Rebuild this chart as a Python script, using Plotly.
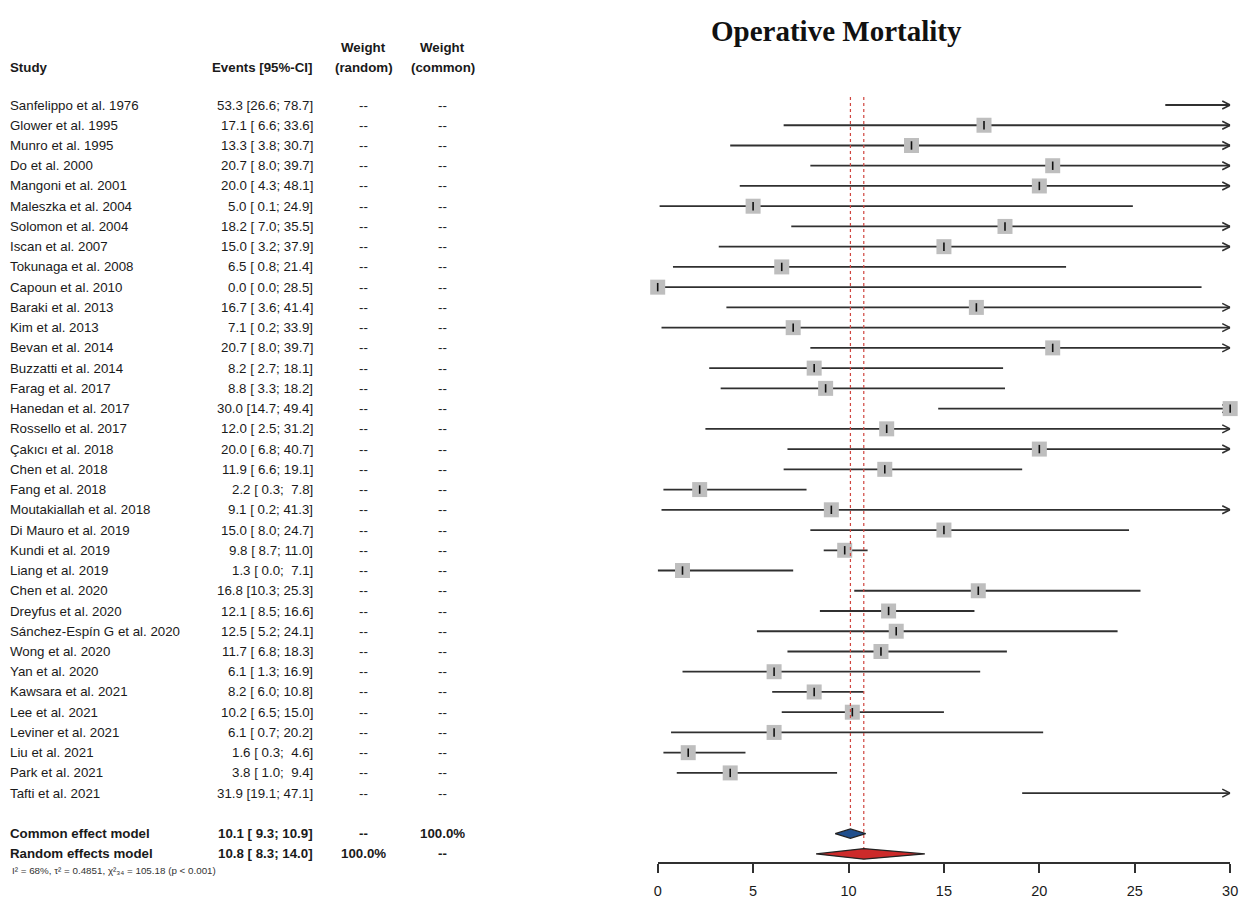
import plotly.graph_objects as go

# ---- study-level data ----
studies = [
    "Sanfelippo et al. 1976", "Glower et al. 1995", "Munro et al. 1995", "Do et al. 2000",
    "Mangoni et al. 2001", "Maleszka et al. 2004", "Solomon et al. 2004", "Iscan et al. 2007",
    "Tokunaga et al. 2008", "Capoun et al. 2010", "Baraki et al. 2013", "Kim et al. 2013",
    "Bevan et al. 2014", "Buzzatti et al. 2014", "Farag et al. 2017", "Hanedan et al. 2017",
    "Rossello et al. 2017", "Çakıcı et al. 2018", "Chen et al. 2018", "Fang et al. 2018",
    "Moutakiallah et al. 2018", "Di Mauro et al. 2019", "Kundi et al. 2019", "Liang et al. 2019",
    "Chen et al. 2020", "Dreyfus et al. 2020", "Sánchez-Espín G et al. 2020", "Wong et al. 2020",
    "Yan et al. 2020", "Kawsara et al. 2021", "Lee et al. 2021", "Leviner et al. 2021",
    "Liu et al. 2021", "Park et al. 2021", "Tafti et al. 2021",
]
events = [53.3, 17.1, 13.3, 20.7, 20.0, 5.0, 18.2, 15.0, 6.5, 0.0, 16.7, 7.1, 20.7, 8.2, 8.8,
          30.0, 12.0, 20.0, 11.9, 2.2, 9.1, 15.0, 9.8, 1.3, 16.8, 12.1, 12.5, 11.7, 6.1, 8.2,
          10.2, 6.1, 1.6, 3.8, 31.9]
ci_low = [26.6, 6.6, 3.8, 8.0, 4.3, 0.1, 7.0, 3.2, 0.8, 0.0, 3.6, 0.2, 8.0, 2.7, 3.3,
          14.7, 2.5, 6.8, 6.6, 0.3, 0.2, 8.0, 8.7, 0.0, 10.3, 8.5, 5.2, 6.8, 1.3, 6.0,
          6.5, 0.7, 0.3, 1.0, 19.1]
ci_high = [78.7, 33.6, 30.7, 39.7, 48.1, 24.9, 35.5, 37.9, 21.4, 28.5, 41.4, 33.9, 39.7, 18.1,
           18.2, 49.4, 31.2, 40.7, 19.1, 7.8, 41.3, 24.7, 11.0, 7.1, 25.3, 16.6, 24.1, 18.3,
           16.9, 10.8, 15.0, 20.2, 4.6, 9.4, 47.1]
weight_random = ["--"] * len(studies)
weight_common = ["--"] * len(studies)

# ---- pooled estimates ----
model_names = ["Common effect model", "Random effects model"]
model_est = [10.1, 10.8]
model_low = [9.3, 8.3]
model_high = [10.9, 14.0]
model_w_random = ["--", "100.0%"]
model_w_common = ["100.0%", "--"]
heterogeneity = "I² = 68%, τ² = 0.4851, χ²₃₄ = 105.18 (p &lt; 0.001)"

axis_ticks = [0, 5, 10, 15, 20, 25, 30]
x_min, x_max = 0, 30

# ---- layout geometry ----
W, H = 1256, 904
ROW_TOP, ROW_STEP = 105, 20.24          # pixel centre of first row, row spacing
X_LEFT, X_RIGHT = 660, 1238              # pixel extent of the effect scale
def row_of_px(px):
    return (px - ROW_TOP) / ROW_STEP

n = len(studies)
rows = list(range(n))
model_rows = [n + 1, n + 2]

FONT = "Liberation Sans, Arial, sans-serif"
TXT = "#1a1a1a"
LINE = "#303030"
FS = 13.3

fig = go.Figure()

# confidence-interval lines (clipped to the visible scale)
lx, ly = [], []
for r, lo, hi in zip(rows, ci_low, ci_high):
    a, b = max(lo, x_min), min(hi, x_max)
    if a < b:
        lx += [a, b, None]
        ly += [r, r, None]
fig.add_trace(go.Scatter(x=lx, y=ly, mode="lines", line=dict(color=LINE, width=1.8),
                         hoverinfo="skip", showlegend=False))

# open arrowheads where an interval runs past the right end of the scale
head_dx = 8 * (x_max - x_min) / (X_RIGHT - X_LEFT)   # 8 px back from the tip
head_dy = 4 / ROW_STEP                               # 4 px above / below
ax_, ay_ = [], []
for r, hi in zip(rows, ci_high):
    if hi > x_max:
        ax_ += [x_max - head_dx, x_max, x_max - head_dx, None]
        ay_ += [r - head_dy, r, r + head_dy, None]
fig.add_trace(go.Scatter(x=ax_, y=ay_, mode="lines", cliponaxis=False,
                         line=dict(color=LINE, width=1.6),
                         hoverinfo="skip", showlegend=False))

# study squares and point ticks
sx = [e for e in events if x_min <= e <= x_max]
sy = [r for r, e in zip(rows, events) if x_min <= e <= x_max]
fig.add_trace(go.Scatter(x=sx, y=sy, mode="markers", cliponaxis=False,
                         marker=dict(symbol="square", size=15, color="#bebebe", line=dict(width=0)),
                         hoverinfo="skip", showlegend=False))
fig.add_trace(go.Scatter(x=sx, y=sy, mode="markers", cliponaxis=False,
                         marker=dict(symbol="line-ns", size=6, line=dict(width=1.6, color="#111111")),
                         hoverinfo="skip", showlegend=False))

# reference lines at pooled estimates
top_row = row_of_px(97)
for est, mr in zip(model_est, model_rows):
    fig.add_trace(go.Scatter(x=[est, est], y=[top_row, mr], mode="lines",
                             line=dict(color="#d0453f", width=1.2, dash="dot"),
                             hoverinfo="skip", showlegend=False))

# pooled diamonds
diamond_style = [("#1f4e8c", 0.23), ("#cc2a2a", 0.26)]
for (fill, h), est, lo, hi, mr in zip(diamond_style, model_est, model_low, model_high, model_rows):
    fig.add_trace(go.Scatter(x=[lo, est, hi, est, lo], y=[mr, mr - h, mr, mr + h, mr],
                             mode="lines", fill="toself", fillcolor=fill,
                             line=dict(color="#222222", width=1.2),
                             hoverinfo="skip", showlegend=False))

annotations = []

def px(x):
    return x / W

def label(x, y, text, anchor, size=FS, bold=False, color=TXT, family=FONT):
    if bold:
        text = f"<b>{text}</b>"
    annotations.append(dict(x=px(x), y=y, xref="paper", yref="y", text=text, showarrow=False,
                            xanchor=anchor, yanchor="middle",
                            font=dict(family=family, size=size, color=color)))

COL_STUDY, COL_EVENTS, COL_WR, COL_WC = 4, 314, 363, 443

# column headers
label(COL_STUDY, row_of_px(67), "Study", "left", bold=True)
label(COL_EVENTS, row_of_px(67), "Events [95%-CI]", "right", bold=True)
label(COL_WR, row_of_px(47), "Weight", "center", bold=True)
label(COL_WR, row_of_px(67), "(random)", "center", bold=True)
label(COL_WC, row_of_px(47), "Weight", "center", bold=True)
label(COL_WC, row_of_px(67), "(common)", "center", bold=True)

# study rows
for r, name, e, lo, hi, wr, wc in zip(rows, studies, events, ci_low, ci_high,
                                        weight_random, weight_common):
    label(COL_STUDY, r, name, "left")
    label(COL_EVENTS, r, f"{e:.1f} [{lo:4.1f}; {hi:4.1f}]", "right")
    label(COL_WR, r, wr, "center")
    label(COL_WC, r, wc, "center")

# pooled rows
for mr, name, e, lo, hi, wr, wc in zip(model_rows, model_names, model_est, model_low,
                                        model_high, model_w_random, model_w_common):
    label(COL_STUDY, mr, name, "left", bold=True)
    label(COL_EVENTS, mr, f"{e:.1f} [{lo:4.1f}; {hi:4.1f}]", "right", bold=True)
    label(COL_WR, mr, wr, "center", bold=True)
    label(COL_WC, mr, wc, "center", bold=True)

label(6, row_of_px(870), heterogeneity, "left", size=9.8, color="#333333")

# title
label(841, row_of_px(31), "Operative Mortality", "center", size=29, bold=True,
      family="Liberation Serif, Times New Roman, serif", color="#111111")

fig.update_layout(
    width=W, height=H,
    margin=dict(l=0, r=0, t=0, b=0),
    paper_bgcolor="white", plot_bgcolor="white",
    showlegend=False,
    annotations=annotations,
    xaxis=dict(domain=[X_LEFT / W, X_RIGHT / W], range=[x_min, x_max], anchor="free",
               position=(H - 863) / H, tickvals=axis_ticks, ticktext=[str(t) for t in axis_ticks],
               ticks="outside", ticklen=9, tickwidth=1.5, tickcolor=LINE,
               ticklabelstandoff=6,
               showline=True, linecolor=LINE, linewidth=1.5, showgrid=False, zeroline=False,
               tickfont=dict(family=FONT, size=14.5, color=TXT)),
    yaxis=dict(domain=[0, 1], range=[row_of_px(H), row_of_px(0)], visible=False,
               showgrid=False, zeroline=False),
)

fig.write_html("out.html")
